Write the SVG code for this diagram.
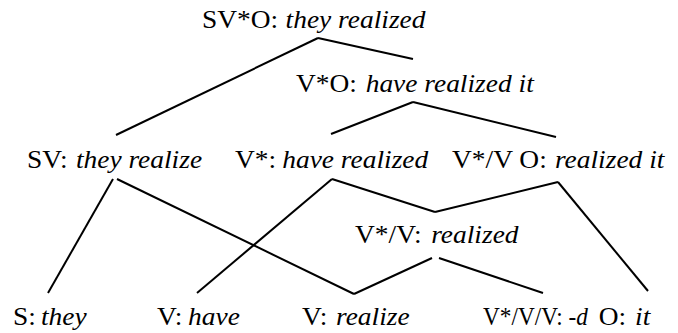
<svg xmlns="http://www.w3.org/2000/svg" width="678" height="333" viewBox="0 0 678 333">
<style>
.t{font-family:"Liberation Serif","Times New Roman",serif;font-size:24.5px;fill:#000}
.i{font-style:italic}
.e{stroke:#000;stroke-width:2;fill:none;stroke-linecap:butt}
</style>
<rect width="678" height="333" fill="#fff"/>
<g id="connectors">
<line class="e" x1="318" y1="38" x2="116" y2="135"/>
<line class="e" x1="318" y1="38" x2="413" y2="59"/>
<line class="e" x1="413" y1="102" x2="331" y2="134"/>
<line class="e" x1="413" y1="102" x2="556" y2="137"/>
<line class="e" x1="113" y1="179" x2="48" y2="293"/>
<line class="e" x1="117" y1="179" x2="354" y2="294"/>
<line class="e" x1="332" y1="179" x2="197" y2="293"/>
<line class="e" x1="332" y1="179" x2="435" y2="212"/>
<line class="e" x1="558" y1="182" x2="435" y2="212"/>
<line class="e" x1="558" y1="182" x2="648" y2="291"/>
<line class="e" x1="354" y1="294" x2="432" y2="258"/>
<line class="e" x1="439" y1="258" x2="543" y2="293"/>
</g>
<g id="labels">
<g transform="scale(1.12,1)">
<g id="n-svo"><text class="t" x="180.4" y="28">SV*O: <tspan class="i" x="255">they realized</tspan></text></g>
<g id="n-vo"><text class="t" x="264.3" y="92">V*O: <tspan class="i" x="326.5">have realized it</tspan></text></g>
<g id="n-sv"><text class="t" x="24.1" y="168">SV: <tspan class="i" x="67.8">they realize</tspan></text></g>
<g id="n-vstar"><text class="t" x="209.8" y="168">V*: <tspan class="i" x="252">have realized</tspan></text></g>
<g id="n-vvo"><text class="t" x="403.6" y="168">V*/V O: <tspan class="i" x="495.5">realized it</tspan></text></g>
<g id="n-vv"><text class="t" x="317" y="243">V*/V: <tspan class="i" x="385">realized</tspan></text></g>
<g id="n-s"><text class="t" x="11.6" y="325">S: <tspan class="i" x="36.5">they</tspan></text></g>
<g id="n-vhave"><text class="t" x="140.2" y="325">V: <tspan class="i" x="167.9">have</tspan></text></g>
<g id="n-vrealize"><text class="t" x="269.6" y="325">V: <tspan class="i" x="300">realize</tspan></text></g>
<g id="n-o"><text class="t" x="534.5" y="325">O: <tspan class="i" x="567">it</tspan></text></g>
</g>
<g id="n-vvv" transform="translate(483,325) scale(0.95,1)"><text class="t" x="0" y="0">V*/V/V: <tspan class="i">-d</tspan></text></g>
</g>
</svg>
